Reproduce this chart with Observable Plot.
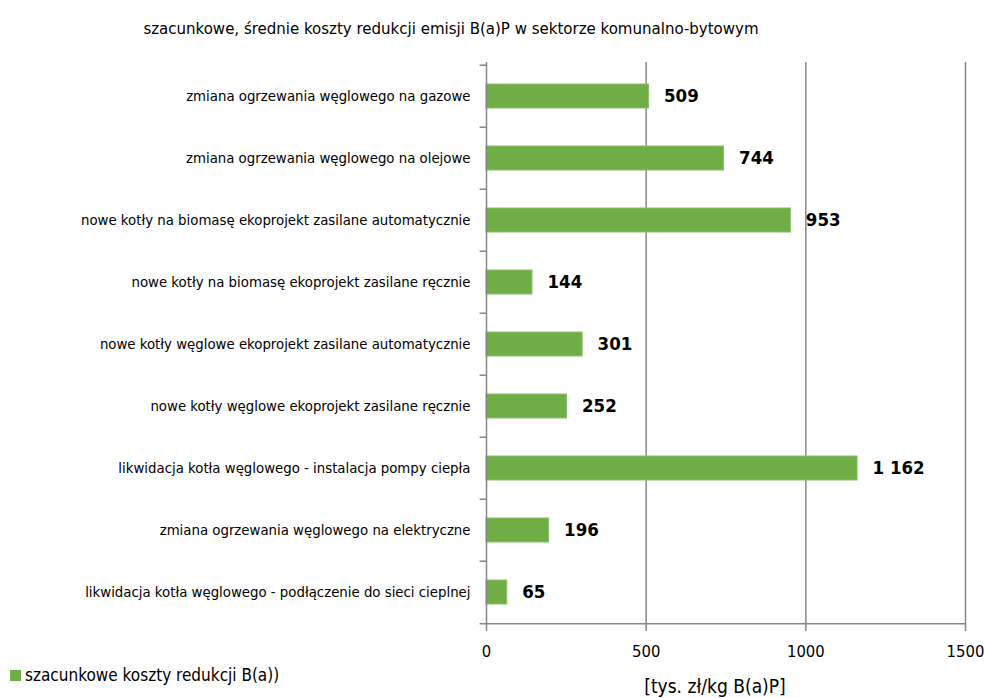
<!DOCTYPE html>
<html>
<head>
<meta charset="utf-8">
<script src="https://cdn.jsdelivr.net/npm/d3@7"></script>
<script src="https://cdn.jsdelivr.net/npm/@observablehq/plot@0.6"></script>
<style>
  html, body { margin: 0; padding: 0; background: #fff; }
  #wrap { position: relative; width: 984px; height: 698px; font-family: "DejaVu Sans Condensed", "Liberation Sans Narrow", sans-serif; }
  #title { position: absolute; left: 0; width: 902px; top: 18px; text-align: center; font-size: 16.7px; color: #000; }
  #legend { position: absolute; left: 10px; top: 665px; font-size: 17px; color: #000; display: flex; align-items: center; }
  #legend .sw { width: 11px; height: 11px; background: #70ad47; margin-right: 4px; }
  #xlabel { position: absolute; left: 615px; width: 200px; top: 675px; text-align: center; font-size: 19px; }
  svg { position: absolute; left: 0; top: 0; }
</style>
</head>
<body>
<div id="wrap">
  <div id="title">szacunkowe, średnie koszty redukcji emisji B(a)P w sektorze komunalno-bytowym</div>
  <div id="legend"><div class="sw"></div>szacunkowe koszty redukcji B(a))</div>
  <div id="xlabel">[tys. zł/kg B(a)P]</div>
</div>
<script>
const categories = [
  "zmiana ogrzewania węglowego na gazowe",
  "zmiana ogrzewania węglowego na olejowe",
  "nowe kotły na biomasę ekoprojekt zasilane automatycznie",
  "nowe kotły na biomasę ekoprojekt zasilane ręcznie",
  "nowe kotły węglowe ekoprojekt zasilane automatycznie",
  "nowe kotły węglowe ekoprojekt zasilane ręcznie",
  "likwidacja kotła węglowego - instalacja pompy ciepła",
  "zmiana ogrzewania węglowego na elektryczne",
  "likwidacja kotła węglowego - podłączenie do sieci cieplnej"
];
const values = [509, 744, 953, 144, 301, 252, 1162, 196, 65];
const valueLabels = ["509", "744", "953", "144", "301", "252", "1 162", "196", "65"];
const xTicks = [0, 500, 1000, 1500];

const data = categories.map((c, i) => ({category: c, value: values[i], label: valueLabels[i]}));

const W = 984, H = 698, mt = 62, mb = 73, ml = 486, mr = 19;
const step = (H - mt - mb) / categories.length;
const font = '"DejaVu Sans Condensed", "Liberation Sans Narrow", sans-serif';

const chart = Plot.plot({
  width: W,
  height: H,
  marginTop: mt,
  marginBottom: mb,
  marginLeft: ml,
  marginRight: mr,
  style: {fontFamily: font, background: "transparent", overflow: "visible"},
  x: {domain: [0, 1500]},
  y: {domain: categories, paddingInner: 0.62, paddingOuter: 0.31},
  marks: [
    Plot.ruleX(xTicks.slice(1), {stroke: "#868686", strokeWidth: 1.5}),
    Plot.barX(data, {y: "category", x: "value", fill: "#70ad47", stroke: "#8cc06a", strokeWidth: 1}),
    Plot.text(data, {y: "category", x: "value", text: "label", textAnchor: "start", dx: 15, fontSize: 18.5, fontWeight: "bold", fill: "#000"}),
    Plot.ruleX([0], {stroke: "#868686", strokeWidth: 1.5}),
    Plot.ruleY(categories, {y: d => d, x1: -20, x2: 0, dy: -step / 2, stroke: "#868686", strokeWidth: 1.5}),
    Plot.ruleY([categories[categories.length - 1]], {y: d => d, x1: -20, x2: 1500, dy: step / 2, stroke: "#868686", strokeWidth: 1.5}),
    Plot.axisY({tickSize: 0, tickPadding: 16, fontSize: 14.8, fill: "#000", label: null}),
    Plot.axisX({ticks: xTicks, tickSize: 6, tickPadding: 14, fontSize: 16.5, fill: "#000", stroke: "#868686", strokeWidth: 1.5, label: null, tickFormat: d => String(d)})
  ]
});
document.getElementById("wrap").prepend(chart);
</script>
</body>
</html>
